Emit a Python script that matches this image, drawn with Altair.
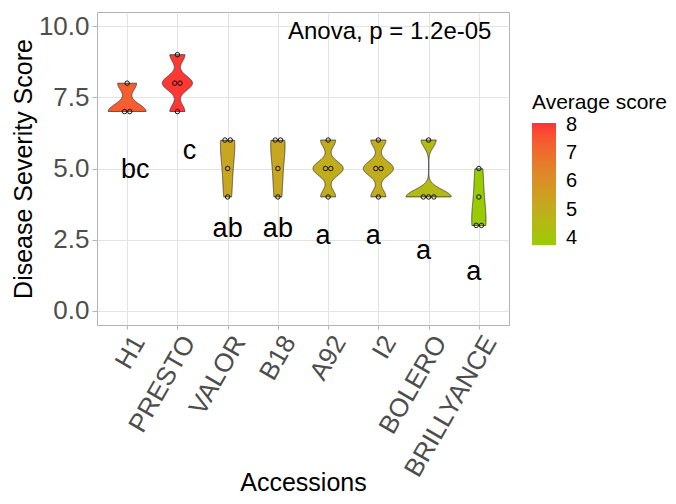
import altair as alt
import pandas as pd

# ---------------- data ----------------
ACCESSIONS = ["H1", "PRESTO", "VALOR", "B18", "A92", "I2", "BOLERO", "BRILLYANCE"]
SCORES = [
    [7, 7, 8],
    [7, 8, 8, 9],
    [4, 5, 6, 6],
    [4, 5, 6, 6],
    [4, 5, 5, 6],
    [4, 5, 5, 6],
    [4, 4, 4, 6],
    [3, 3, 4, 5],
]
LETTERS = ["bc", "c", "ab", "ab", "a", "a", "a", "a"]
ANOVA_LABEL = "Anova, p = 1.2e-05"
Y_TICKS = [0, 1.25, 2.5, 3.75, 5, 6.25, 7.5, 8.75, 10]
LEGEND_TICKS = [4, 5, 6, 7, 8]

rows = []
for i, (acc, vals) in enumerate(zip(ACCESSIONS, SCORES)):
    for v in vals:
        rows.append({"accession": acc, "idx": i + 1, "score": v})
df = pd.DataFrame(rows)
letters_df = pd.DataFrame({"accession": ACCESSIONS, "letter": LETTERS})
anova_df = pd.DataFrame({"label": [ANOVA_LABEL]})

FONT = "Liberation Sans"
LOW, HIGH = "#99CC00", "#FF3333"

x_scale = alt.Scale(domain=[0.4, 8.6], nice=False, zero=False)
y_scale = alt.Scale(domain=[-0.5, 10.5], nice=False, zero=False)
color_scale = alt.Scale(domain=[3.75, 8.06], range=[LOW, HIGH], interpolate="lab")

label_expr = "[" + ",".join(f"'{a}'" for a in ACCESSIONS) + "][datum.value - 1]"

X_TITLE = "Accessions"
Y_TITLE = "Disease Severity Score"

x_axis = alt.Axis(
    values=list(range(1, len(ACCESSIONS) + 1)),
    labelExpr=label_expr,
    title=X_TITLE,
    labelAngle=300,
    labelAlign="right",
    labelBaseline="top",
    labelOffset=0,
    labelPadding=2,
    tickSize=4,
    titleY=165,
    titleBaseline="alphabetic",
    labelOverlap=False,
    labelFontSize=26,
)
y_axis = alt.Axis(
    values=Y_TICKS,
    labelExpr="datum.value % 2.5 === 0 ? format(datum.value, '.1f') : ''",
    title=Y_TITLE,
    tickSize=5,
    labelPadding=3,
    labelFontSize=26,
    tickOpacity={"condition": {"test": "datum.value % 2.5 === 0", "value": 1}, "value": 0},
    titleAngle=270,
    titleX=-66,
    titleY=156.5,
    titleAlign="center",
    titleBaseline="alphabetic",
)

legend = alt.Legend(
    title="Average score",
    orient="none",
    legendX=435,
    legendY=80,
    direction="vertical",
    gradientLength=122,
    gradientThickness=24,
    gradientStrokeWidth=0,
    values=LEGEND_TICKS,
    labelOverlap=False,
    titleFontSize=21,
    labelFontSize=20,
    titleFont=FONT,
    labelFont=FONT,
    titleFontWeight="normal",
    titleColor="black",
    labelColor="black",
    titlePadding=10,
    labelOffset=10,
    padding=0,
    titleLimit=400,
)

# ---------------- violins (per-group bw.nrd0, trimmed, area-scaled) ----------------
violin = (
    alt.Chart(df)
    .transform_joinaggregate(
        sd="stdev(score)", q1="q1(score)", q3="q3(score)", n="count()",
        mean="mean(score)", lo="min(score)", hi="max(score)", groupby=["accession"],
    )
    .transform_calculate(
        bw="0.9 * min(datum.sd, (datum.q3 - datum.q1) / 1.34) * pow(datum.n, -0.2)"
    )
    .transform_calculate(s="datum.score / datum.bw")
    .transform_density(
        "s", as_=["s", "d"], groupby=["accession", "idx", "bw", "mean", "lo", "hi"],
        bandwidth=1, steps=1500,
    )
    .transform_calculate(yv="datum.s * datum.bw", dens="datum.d / datum.bw")
    .transform_filter("datum.yv >= datum.lo - 1e-9 && datum.yv <= datum.hi + 1e-9")
    .transform_joinaggregate(maxd="max(dens)")
    .transform_calculate(
        xl="datum.idx - 0.45 * datum.dens / datum.maxd",
        xr="datum.idx + 0.45 * datum.dens / datum.maxd",
    )
    .mark_area(orient="horizontal", stroke="#3a3a3a", strokeWidth=0.8)
    .encode(
        y=alt.Y("yv:Q", scale=y_scale, axis=y_axis),
        x=alt.X("xl:Q", scale=x_scale, axis=x_axis),
        x2="xr:Q",
        fill=alt.Fill("mean:Q", scale=color_scale, legend=legend),
        detail="accession:N",
    )
)

# ---------------- dots (centered stacks) ----------------
dots = (
    alt.Chart(df)
    .transform_window(rn="row_number()", groupby=["accession", "score"])
    .transform_joinaggregate(cnt="count()", groupby=["accession", "score"])
    .transform_calculate(xd="datum.idx + (datum.rn - (datum.cnt + 1) / 2) * 0.105")
    .mark_point(shape="circle", filled=False, color="black", size=20, strokeWidth=0.9, opacity=1)
    .encode(
        x=alt.X("xd:Q", scale=x_scale, title=X_TITLE),
        y=alt.Y("score:Q", scale=y_scale, title=Y_TITLE),
    )
)

# ---------------- letters ----------------
letters = (
    alt.Chart(df)
    .transform_aggregate(mean="mean(score)", groupby=["accession", "idx"])
    .transform_lookup(lookup="accession", from_=alt.LookupData(letters_df, "accession", ["letter"]))
    .transform_calculate(
        ly="datum.mean - 2.67",
        lx="datum.idx + (datum.letter == 'bc' ? 0.16 : datum.letter == 'c' ? 0.24 : datum.letter == 'a' ? -0.1 : 0)",
    )
    .mark_text(font=FONT, fontSize=27, baseline="alphabetic", align="center", color="black")
    .encode(
        x=alt.X("lx:Q", scale=x_scale, title=X_TITLE),
        y=alt.Y("ly:Q", scale=y_scale, title=Y_TITLE),
        text="letter:N",
    )
)

anova = (
    alt.Chart(anova_df)
    .mark_text(font=FONT, fontSize=24, align="left", baseline="alphabetic", color="black")
    .encode(x=alt.datum(4.2), y=alt.datum(9.56), text="label:N")
)

chart = (
    alt.layer(violin, dots, letters, anova)
    .properties(
        width=412,
        height=313,
        autosize=alt.AutoSizeParams(type="none"),
        padding={"left": 89, "top": 4, "right": 159, "bottom": 171},
    )
    .configure_view(stroke="#B3B3B3", strokeWidth=1)
    .configure_axis(
        labelFont=FONT, titleFont=FONT, labelFontSize=26, titleFontSize=25,
        labelColor="#4D4D4D", titleColor="black", titleFontWeight="normal",
        gridColor="#E3E3E3", gridWidth=1, tickColor="#B3B3B3", domain=False,
    )
)

chart.save("out.html", embed_options={"renderer": "svg", "actions": False})
